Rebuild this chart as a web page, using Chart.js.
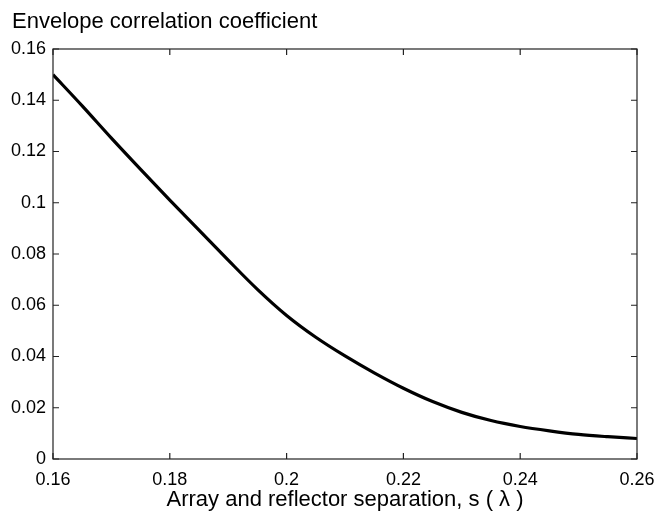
<!DOCTYPE html>
<html>
<head>
<meta charset="utf-8">
<script src="https://cdn.jsdelivr.net/npm/chart.js@4"></script>
<style>
  html, body { margin: 0; padding: 0; background: #fff; }
  #wrap { width: 669px; height: 516px; }
</style>
</head>
<body>
<div id="wrap"><canvas id="grafico"></canvas></div>
<script>
// separation s (in wavelengths) and envelope correlation
const separation = [0.160, 0.165, 0.170, 0.175, 0.180, 0.185, 0.190, 0.195, 0.200, 0.205,
                    0.210, 0.215, 0.220, 0.225, 0.230, 0.235, 0.240, 0.245, 0.250, 0.255, 0.260];
const correlation = [0.1500, 0.1378, 0.1252, 0.1130, 0.1010, 0.0893, 0.0776, 0.0662, 0.0560, 0.0475,
                     0.0402, 0.0336, 0.0276, 0.0224, 0.0182, 0.0150, 0.0127, 0.0110, 0.0096, 0.0087, 0.0080];

const xTickLabels = ['0.16', '0.18', '0.2', '0.22', '0.24', '0.26'];
const yTickLabels = ['0', '0.02', '0.04', '0.06', '0.08', '0.1', '0.12', '0.14', '0.16'];

const tituloY = 'Envelope correlation coefficient';
const tituloX = 'Array and reflector separation, s ( λ )';

const fonte = 'Liberation Sans, Arial, Helvetica, sans-serif';

// box around the plot with ticks pointing inward on all four sides,
// plus the y title written horizontally above the top-left corner
const caixa = {
    id: 'caixa',
    afterDatasetsDraw(chart) {
        const { ctx, chartArea: a, scales } = chart;
        const len = 6;
        ctx.save();
        ctx.strokeStyle = '#222';
        ctx.lineWidth = 1.2;
        ctx.strokeRect(a.left, a.top, a.right - a.left, a.bottom - a.top);
        ctx.beginPath();
        scales.x.ticks.forEach(t => {
            const px = scales.x.getPixelForValue(t.value);
            ctx.moveTo(px, a.bottom); ctx.lineTo(px, a.bottom - len);
            ctx.moveTo(px, a.top); ctx.lineTo(px, a.top + len);
        });
        scales.y.ticks.forEach(t => {
            const py = scales.y.getPixelForValue(t.value);
            ctx.moveTo(a.left, py); ctx.lineTo(a.left + len, py);
            ctx.moveTo(a.right, py); ctx.lineTo(a.right - len, py);
        });
        ctx.stroke();

        ctx.fillStyle = '#000';
        ctx.font = '22px ' + fonte;
        ctx.textAlign = 'left';
        ctx.textBaseline = 'alphabetic';
        ctx.fillText(tituloY, 12, 28);
        ctx.restore();
    }
};

const grafico = new Chart(document.getElementById('grafico'), {
    type: 'line',
    data: {
        datasets: [{
            data: separation.map((s, i) => ({ x: s, y: correlation[i] })),
            borderColor: '#000',
            borderWidth: 3.2,
            pointRadius: 0,
            cubicInterpolationMode: 'monotone',
            fill: false
        }]
    },
    options: {
        responsive: true,
        maintainAspectRatio: false,
        animation: false,
        layout: { padding: { left: 0, right: 32, top: 49, bottom: 0 } },
        plugins: {
            legend: { display: false },
            tooltip: { enabled: false }
        },
        scales: {
            x: {
                type: 'linear',
                min: 0.16,
                max: 0.26,
                grid: { display: false, drawTicks: false },
                border: { display: false },
                ticks: {
                    stepSize: 0.02,
                    padding: 10,
                    color: '#000',
                    maxRotation: 0,
                    font: { family: fonte, size: 18 },
                    callback: (v, i) => xTickLabels[i]
                },
                title: {
                    display: true,
                    text: tituloX,
                    color: '#000',
                    font: { family: fonte, size: 22 },
                    padding: { top: 6, bottom: 3 }
                },
                afterFit: s => { s.height = 57; }
            },
            y: {
                min: 0,
                max: 0.16,
                grid: { display: false, drawTicks: false },
                border: { display: false },
                ticks: {
                    stepSize: 0.02,
                    padding: 7,
                    color: '#000',
                    font: { family: fonte, size: 18 },
                    callback: (v, i) => yTickLabels[i]
                },
                afterFit: s => { s.width = 53; }
            }
        }
    },
    plugins: [caixa]
});
</script>
</body>
</html>
